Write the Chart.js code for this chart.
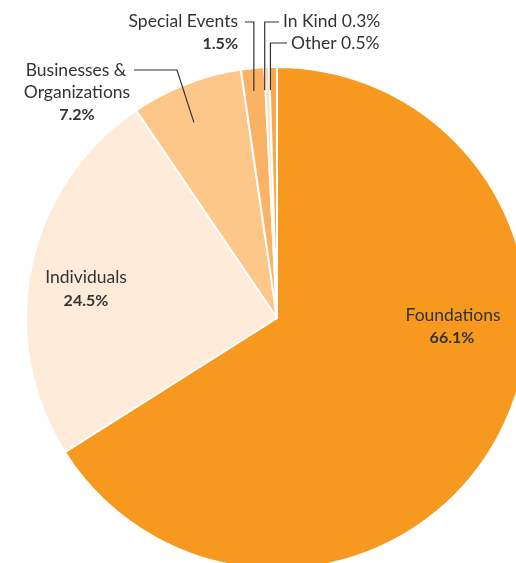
<!DOCTYPE html>
<html>
<head>
<style>
html, body { margin: 0; padding: 0; background: #fff; overflow: hidden; }
#wrap { position: absolute; left: 0; top: 0; width: 554px; height: 636px; }
</style>
</head>
<body>
<div id="wrap"><canvas id="pieChart"></canvas></div>

<script src="https://cdn.jsdelivr.net/npm/chart.js"></script>
<script>
// revenue sources, clockwise from 12 o'clock
let labels = ['Foundations', 'Individuals', 'Businesses & Organizations', 'Special Events', 'In Kind', 'Other'];
let values = [66.1, 24.5, 7.2, 1.5, 0.3, 0.5];
let colors = ['#F7991F', '#FEEBDA', '#FEC78A', '#FBB265', '#FDDDB8', '#F9A947'];

let textColor = '#333333';
let nameFont = '17.5px Lato';
let pctFont = 'bold 16px Lato';

function arcPoint(arc, r){
    let a = (arc.startAngle + arc.endAngle) / 2;
    return { x: arc.x + r * Math.cos(a), y: arc.y + r * Math.sin(a) };
}

const labelPlugin = {
    id: 'labelPlugin',
    afterDraw(chart){
        let ctx = chart.ctx;
        let arcs = chart.getDatasetMeta(0).data;
        ctx.save();
        ctx.fillStyle = textColor;
        ctx.strokeStyle = '#333';
        ctx.lineWidth = 1.2;
        ctx.textBaseline = 'middle';

        // labels inside the big slices
        ctx.textAlign = 'center';
        ctx.font = nameFont;
        ctx.fillText('Foundations', 453, 315);
        ctx.font = pctFont;
        ctx.fillText(values[0].toFixed(1) + '%', 452, 338);
        ctx.font = nameFont;
        ctx.fillText('Individuals', 86, 277);
        ctx.font = pctFont;
        ctx.fillText(values[1].toFixed(1) + '%', 86, 301);

        // Businesses & Organizations
        ctx.font = nameFont;
        ctx.fillText('Businesses &', 76, 70);
        ctx.fillText('Organizations', 77, 92);
        ctx.font = pctFont;
        ctx.fillText(values[2].toFixed(1) + '%', 77, 115);
        let p = arcPoint(arcs[2], 213);
        ctx.beginPath();
        ctx.moveTo(134, 70);
        ctx.lineTo(177, 70);
        ctx.lineTo(p.x - 6, p.y + 3);
        ctx.stroke();

        // Special Events
        ctx.textAlign = 'right';
        ctx.font = nameFont;
        ctx.fillText('Special Events', 238, 21);
        ctx.font = pctFont;
        ctx.fillText(values[3].toFixed(1) + '%', 238, 44);
        p = arcPoint(arcs[3], 228);
        ctx.beginPath();
        ctx.moveTo(245, 22);
        ctx.lineTo(p.x - 1, 22);
        ctx.lineTo(p.x - 1, p.y);
        ctx.stroke();

        // In Kind
        ctx.textAlign = 'left';
        ctx.font = nameFont;
        ctx.fillText('In Kind ' + values[4].toFixed(1) + '%', 283, 21);
        p = arcPoint(arcs[4], 228);
        ctx.beginPath();
        ctx.moveTo(279, 22);
        ctx.lineTo(p.x - 3, 22);
        ctx.lineTo(p.x - 3, p.y);
        ctx.stroke();

        // Other
        ctx.fillText('Other ' + values[5].toFixed(1) + '%', 291, 43);
        p = arcPoint(arcs[5], 228);
        ctx.beginPath();
        ctx.moveTo(287, 43);
        ctx.lineTo(p.x - 3, 43);
        ctx.lineTo(p.x - 3, p.y);
        ctx.stroke();
        ctx.restore();
    }
};

new Chart(document.getElementById('pieChart'), {
    type: 'pie',
    data: {
        labels: labels,
        datasets: [{
            data: values,
            backgroundColor: colors,
            borderColor: '#ffffff',
            borderWidth: 2
        }]
    },
    options: {
        responsive: true,
        maintainAspectRatio: false,
        animation: false,
        layout: { padding: { left: 25, right: 25, top: 66, bottom: 66 } },
        plugins: {
            legend: { display: false },
            tooltip: { enabled: false }
        }
    },
    plugins: [labelPlugin]
});
</script>
</body>
</html>
